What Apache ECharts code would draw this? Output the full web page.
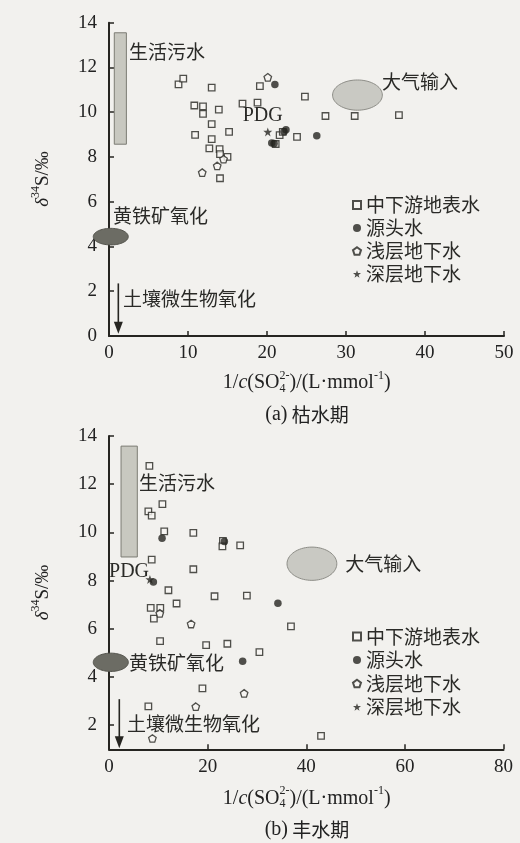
<!DOCTYPE html>
<html><head><meta charset="utf-8">
<script src="https://cdn.jsdelivr.net/npm/echarts@6/dist/echarts.min.js"></script>
<style>html,body{margin:0;padding:0;background:#f2f1ee;}#c{width:520px;height:843px;}</style>
</head><body><div id="c"></div>
<script>
// ---------- Panel (a) 枯水期 : [1/c(SO4), δ34S] ----------
const aSurface = [[8.8,11.24],[9.4,11.5],[13.0,11.1],[10.8,10.3],[11.9,10.26],[11.9,9.93],[13.9,10.12],[13.0,9.47],[10.9,8.99],[13.0,8.8],[15.2,9.12],[12.7,8.38],[14.0,8.35],[14.05,8.13],[15.0,8.0],[14.05,7.05],[16.9,10.38],[18.8,10.43],[19.1,11.17],[24.8,10.7],[27.4,9.83],[31.1,9.83],[36.7,9.87],[23.8,8.9],[21.6,8.98],[22.0,9.12],[21.1,8.58]];
const aSource = [[21.0,11.24],[22.4,9.22],[22.15,9.13],[20.6,8.62],[20.9,8.6],[26.3,8.95]];
const aShallow = [[20.1,11.56],[14.5,7.9],[13.7,7.6],[11.8,7.3]];
const aDeep = [[20.1,9.12]];
// ---------- Panel (b) 丰水期 ----------
const bSurface = [[8.19,12.76],[10.83,11.17],[7.98,10.87],[8.66,10.7],[11.2,10.04],[17.1,9.98],[23.1,9.65],[23.0,9.42],[26.6,9.46],[8.66,8.87],[17.1,8.47],[12.05,7.6],[21.4,7.35],[27.96,7.38],[13.7,7.05],[8.46,6.87],[10.4,6.87],[9.1,6.42],[10.36,5.49],[19.7,5.32],[24.0,5.38],[30.5,5.03],[36.9,6.1],[18.95,3.53],[7.98,2.78],[43.0,1.56]];
const bSource = [[10.76,9.76],[9.0,7.94],[23.4,9.62],[34.25,7.06],[27.1,4.65]];
const bShallow = [[10.3,6.64],[16.65,6.2],[27.4,3.32],[17.6,2.77],[8.8,1.45]];
const bDeep = [[8.3,8.05]];

const seriesNames = ['中下游地表水','源头水','浅层地下水','深层地下水'];
const xTicksA = [0,10,20,30,40,50];
const xTicksB = [0,20,40,60,80];
const yTicks = [0,2,4,6,8,10,12,14];
const yTicksB = [2,4,6,8,10,12,14];

// annotation regions (data units): [x1,y1,x2,y2]
const aSewageBox = [0.67,8.57,2.2,13.55];
const aAtmos = [28.3,10.09,34.6,11.44];
const aPyrite = [-1.99,4.07,2.44,4.81];
const aSoilArrow = [1.18,2.35,1.18,0.1];
const aLabels = [['生活污水',2.53,12.72],['大气输入',34.56,11.35],['黄铁矿氧化',0.5,5.35],['土壤微生物氧化',1.77,1.67]];
const aPDG = [19.46,9.83];

const bSewageBox = [2.44,8.98,5.74,13.58];
const bAtmos = [36.1,8.01,46.2,9.39];
const bPyrite = [-3.19,4.23,3.92,4.99];
const bSoilArrow = [2.09,3.08,2.09,1.04];
const bLabels = [['生活污水',6.09,12.04],['大气输入',47.9,8.7],['黄铁矿氧化',4.06,4.6],['土壤微生物氧化',3.65,2.04]];
const bPDG = [4.06,8.35];

const SERIF = '"Liberation Serif","Times New Roman",serif';
const CJK = '"Noto Sans CJK SC","Noto Sans",sans-serif';
const INK = '#262521';
const HOLLOW = '#f7f6f3';
const PENTA = 'path://M0,-10L9.51,-3.09L5.88,8.09L-5.88,8.09L-9.51,-3.09Z';
const STAR = 'path://M0,-10L2.35,-3.24L9.51,-3.09L3.8,1.24L5.88,8.09L0,4L-5.88,8.09L-3.8,1.24L-9.51,-3.09L-2.35,-3.24Z';

const chart = echarts.init(document.getElementById('c'), null, {renderer:'canvas'});

function xAx(g, max, ticks){
  return {type:'value', gridIndex:g, min:0, max:max, interval:ticks[1]-ticks[0],
    axisLine:{onZero:false, lineStyle:{color:INK,width:2}},
    axisTick:{inside:true,length:5,lineStyle:{color:INK,width:1.5}},
    axisLabel:{color:'#222',fontFamily:SERIF,fontSize:19,margin:8,showMinLabel:true,showMaxLabel:true},
    splitLine:{show:false}};
}
function yAx(g, min, ticks){
  const o = {type:'value', gridIndex:g, min:min, max:14,
    axisLine:{onZero:false, lineStyle:{color:INK,width:2}},
    axisTick:{inside:true,length:5,lineStyle:{color:INK,width:1.5}},
    axisLabel:{color:'#222',fontFamily:SERIF,fontSize:19,margin:12,showMinLabel:true,showMaxLabel:true},
    splitLine:{show:false}};
  if (min === 0) { o.interval = 2; }
  else { o.axisLabel.customValues = ticks; o.axisTick.customValues = ticks; }
  return o;
}
function sc(name, data, g, kind){
  const base = {type:'scatter', name:name, xAxisIndex:g, yAxisIndex:g, data:data, z:3, silent:true};
  if (kind===0) Object.assign(base,{symbol:'rect',symbolSize:6.5,itemStyle:{color:HOLLOW,borderColor:INK,borderWidth:1.3}});
  if (kind===1) Object.assign(base,{symbol:'circle',symbolSize:7.5,itemStyle:{color:INK}});
  if (kind===2) Object.assign(base,{symbol:PENTA,symbolSize:7.5,itemStyle:{color:HOLLOW,borderColor:INK,borderWidth:1.3}});
  if (kind===3) Object.assign(base,{symbol:STAR,symbolSize:9,itemStyle:{color:INK}});
  return base;
}
function corners(api){
  const p1 = api.coord([api.value(0), api.value(3)]);
  const p2 = api.coord([api.value(2), api.value(1)]);
  return [p1,p2];
}
function annSeries(g, box, atmos, pyrite, arrow, labels, pdg){
  const out = [];
  out.push({type:'custom', xAxisIndex:g, yAxisIndex:g, clip:false, z:1, silent:true, data:[box],
    encode:{x:[0,2],y:[1,3]},
    renderItem:function(params, api){
      const c = corners(api);
      return {type:'rect', shape:{x:c[0][0],y:c[0][1],width:c[1][0]-c[0][0],height:c[1][1]-c[0][1]},
        style:{fill:'#c8c8c0',stroke:'#7c7c74',lineWidth:1}};
    }});
  const fills = ['#c9c9c3','#6c6c64'], strokes = ['#8d8d87','#54544d'];
  out.push({type:'custom', xAxisIndex:g, yAxisIndex:g, clip:false, z:1, silent:true, data:[atmos, pyrite],
    encode:{x:[0,2],y:[1,3]},
    renderItem:function(params, api){
      const c = corners(api);
      const cx=(c[0][0]+c[1][0])/2, cy=(c[0][1]+c[1][1])/2, rx=(c[1][0]-c[0][0])/2, ry=(c[1][1]-c[0][1])/2;
      const pts=[]; for(let i=0;i<72;i++){const t=i/72*Math.PI*2; pts.push([cx+rx*Math.cos(t), cy+ry*Math.sin(t)]);}
      return {type:'polygon', shape:{points:pts}, style:{fill:fills[params.dataIndex],stroke:strokes[params.dataIndex],lineWidth:1}};
    }});
  out.push({type:'custom', xAxisIndex:g, yAxisIndex:g, clip:false, z:2, silent:true, data:[arrow],
    encode:{x:[0,2],y:[1,3]},
    renderItem:function(params, api){
      const p1 = api.coord([api.value(0), api.value(1)]);
      const p2 = api.coord([api.value(2), api.value(3)]);
      return {type:'group', children:[
        {type:'line', shape:{x1:p1[0],y1:p1[1],x2:p2[0],y2:p2[1]-10}, style:{stroke:INK,lineWidth:1.6}},
        {type:'polygon', shape:{points:[[p2[0]-4.5,p2[1]-12],[p2[0]+4.5,p2[1]-12],[p2[0],p2[1]]]}, style:{fill:INK}}
      ]};
    }});
  out.push({type:'custom', xAxisIndex:g, yAxisIndex:g, clip:false, z:4, silent:true,
    data:labels.map(l=>[l[1],l[2]]),
    renderItem:function(params, api){
      const p = api.coord([api.value(0), api.value(1)]);
      return {type:'text', x:p[0], y:p[1], style:{text:labels[params.dataIndex][0], fontSize:19, fontFamily:CJK,
        fill:'#2a2a27', align:'left', verticalAlign:'middle'}};
    }});
  out.push({type:'custom', xAxisIndex:g, yAxisIndex:g, clip:false, z:4, silent:true, data:[pdg],
    renderItem:function(params, api){
      const p = api.coord([api.value(0), api.value(1)]);
      return {type:'text', x:p[0], y:p[1], style:{text:'PDG', fontSize:20, fontFamily:SERIF,
        fill:'#2a2a27', align:'center', verticalAlign:'middle'}};
    }});
  return out;
}

// rich one-line text with super/subscripts built from measured pieces
const mctx = document.createElement('canvas').getContext('2d');
function fontStr(p){ return (p.it?'italic ':'') + p.s + 'px ' + (p.fam||SERIF); }
function tw(t, p){ mctx.font = fontStr(p); return mctx.measureText(t).width; }
function richLine(parts, cx, cy, rot){
  const ws = parts.map(p => p.stack ? Math.max.apply(null, p.stack.map(q=>tw(q.t,p))) : tw(p.t,p));
  const total = ws.reduce((a,b)=>a+b,0);
  let x = -total/2; const children = [];
  parts.forEach((p,i)=>{
    const items = p.stack ? p.stack : [p];
    items.forEach(q=>{
      children.push({type:'text', x:x, y:(q.dy||0), style:{text:q.t, fontSize:p.s, fontFamily:(p.fam||SERIF),
        fontStyle:p.it?'italic':'normal', fill:'#222', align:'left', verticalAlign:'middle'}});
    });
    x += ws[i];
  });
  return {type:'group', x:cx, y:cy, rotation:rot||0, children:children};
}
const xTitle = [{t:'1/',s:20},{t:'c',s:20,it:true},{t:'(SO',s:20},{stack:[{t:'2-',dy:-7},{t:'4',dy:6}],s:12},
  {t:')/(L·mmol',s:20},{t:'-1',s:12,dy:-7},{t:')',s:20}];
const yTitle = [{t:'δ',s:19,it:true},{t:'34',s:12,dy:-7},{t:'S/‰',s:19}];
const capA = [{t:'(a)',s:20},{t:' 枯水期',s:19,fam:CJK}];
const capB = [{t:'(b)',s:20},{t:' 丰水期',s:19,fam:CJK}];

function legendCfg(top, gap){
  return {left:352, top:top, orient:'vertical', padding:0, itemWidth:8, itemHeight:8, itemGap:gap,
    selectedMode:false, textStyle:{fontSize:19, fontFamily:CJK, color:'#2a2a27', lineHeight:20},
    data:seriesNames};
}

const option = {
  animation:false,
  backgroundColor:'#f2f1ee',
  grid:[{left:109, top:22.7, width:395, height:313.3},{left:109, top:436, width:394.5, height:313.3}],
  xAxis:[xAx(0,50,xTicksA), xAx(1,80,xTicksB)],
  yAxis:[yAx(0,0,yTicks), yAx(1,1,yTicksB)],
  legend:[legendCfg(195,3), legendCfg(626.5,3.5)],
  graphic:[
    richLine(xTitle, 306.7, 383),
    richLine(capA, 307, 415),
    richLine(xTitle, 306.7, 798.3),
    richLine(capB, 307, 829.3),
    richLine(yTitle, 43, 179, Math.PI/2),
    richLine(yTitle, 43, 592.5, Math.PI/2)
  ],
  series:[].concat(
    annSeries(0, aSewageBox, aAtmos, aPyrite, aSoilArrow, aLabels, aPDG),
    annSeries(1, bSewageBox, bAtmos, bPyrite, bSoilArrow, bLabels, bPDG),
    [sc(seriesNames[0], aSurface, 0, 0), sc(seriesNames[1], aSource, 0, 1), sc(seriesNames[2], aShallow, 0, 2), sc(seriesNames[3], aDeep, 0, 3),
     sc(seriesNames[0], bSurface, 1, 0), sc(seriesNames[1], bSource, 1, 1), sc(seriesNames[2], bShallow, 1, 2), sc(seriesNames[3], bDeep, 1, 3)]
  )
};
chart.setOption(option);
</script>
</body></html>
